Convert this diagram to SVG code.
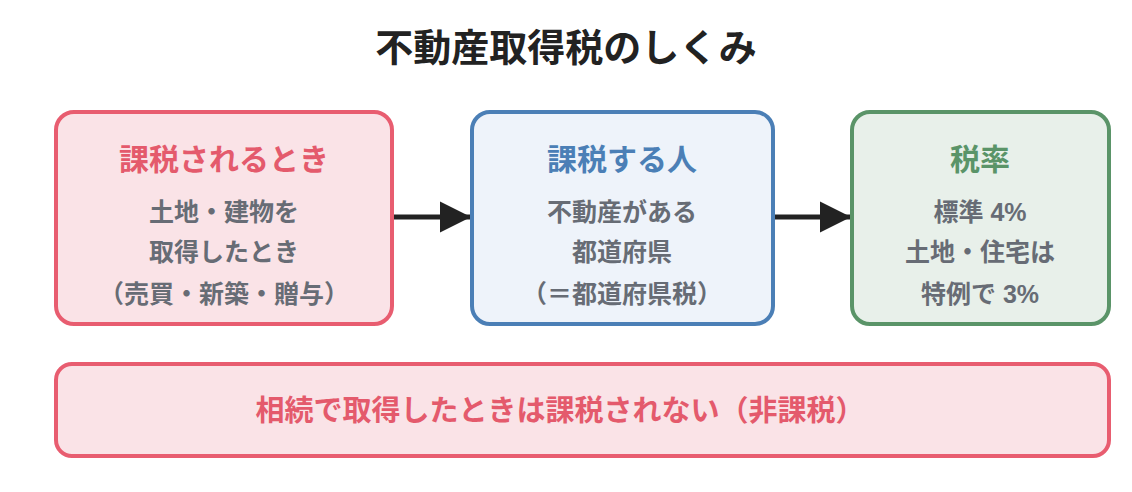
<svg xmlns="http://www.w3.org/2000/svg" width="1132" height="492" viewBox="0 0 1132 492">
<style>
text{font-family:"Noto Sans CJK JP","Noto Sans",sans-serif;font-weight:bold;text-anchor:middle}
.title{font-size:38px;fill:#222}
.h{font-size:30px}
.b{font-size:25px;fill:#676c75}
.lat{font-family:"Liberation Sans","Noto Sans CJK JP",sans-serif}
.red rect{fill:#fae3e7;stroke:#e85d70;stroke-width:4}
.blue rect{fill:#eef3fa;stroke:#4b7fb6;stroke-width:4}
.green rect{fill:#e8f0ea;stroke:#5a9468;stroke-width:4}
.conn line{stroke:#222;stroke-width:5}
</style>
<defs>
<marker id="ah" viewBox="0 0 10 10" refX="10" refY="5" markerWidth="6.2" markerHeight="7" markerUnits="strokeWidth" orient="auto">
<path d="M0,0 L10,5 L0,10 z" fill="#222"/>
</marker>
</defs>
<rect width="1132" height="492" fill="#fff"/>
<text class="title" x="566" y="61">不動産取得税のしくみ</text>
<g class="conn">
<line x1="392" y1="217" x2="471" y2="217" marker-end="url(#ah)"/>
<line x1="773" y1="217" x2="851" y2="217" marker-end="url(#ah)"/>
</g>
<g id="when" class="red">
<rect x="56" y="112" width="336" height="212" rx="18"/>
<text class="h" x="224" y="170" fill="#e45a6c">課税されるとき</text>
<text class="b" x="224" y="221">土地・建物を</text>
<text class="b" x="224" y="261">取得したとき</text>
<text class="b" x="224" y="303">（売買・新築・贈与）</text>
</g>
<g id="who" class="blue">
<rect x="472" y="112" width="301" height="212" rx="18"/>
<text class="h" x="622" y="170" fill="#4b7fb6">課税する人</text>
<text class="b" x="622" y="221">不動産がある</text>
<text class="b" x="622" y="261">都道府県</text>
<text class="b" x="622" y="303">（＝都道府県税）</text>
</g>
<g id="rate" class="green">
<rect x="852" y="112" width="257" height="212" rx="18"/>
<text class="h" x="980" y="170" fill="#5a9468">税率</text>
<text class="b" x="980" y="221">標準<tspan class="lat"> 4%</tspan></text>
<text class="b" x="980" y="261">土地・住宅は</text>
<text class="b" x="980" y="303">特例で<tspan class="lat"> 3%</tspan></text>
</g>
<g id="note" class="red">
<rect x="56" y="364" width="1053" height="92" rx="16"/>
<text x="560" y="421" font-size="29" fill="#e45a6c">相続で取得したときは課税されない（非課税）</text>
</g>
</svg>
